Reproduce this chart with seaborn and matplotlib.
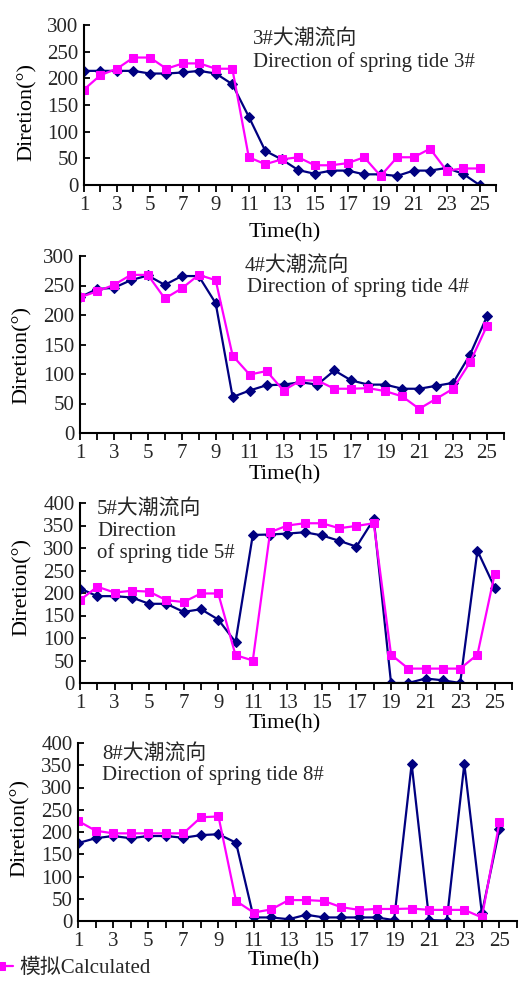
import matplotlib
matplotlib.use("Agg")
import matplotlib.pyplot as plt
import seaborn as sns
import pandas as pd

# ---------------- data ----------------
hours = list(range(1, 26))
measured_3 = [214, 214, 214, 214, 209, 209, 211, 214, 209, 189, 128, 64, 48, 28, 21, 27, 27, 20, 20, 17, 27, 27, 32, 21, 0]
calc_3 = [179, 206, 218, 239, 239, 218, 228, 228, 218, 218, 52, 39, 48, 52, 37, 37, 41, 52, 17, 52, 52, 68, 27, 31, 31]
measured_4 = [230, 244, 246, 259, 267, 251, 266, 266, 220, 61, 72, 81, 82, 86, 82, 106, 89, 82, 82, 75, 75, 80, 85, 133, 198]
calc_4 = [230, 240, 251, 268, 268, 228, 245, 268, 259, 131, 99, 105, 72, 89, 89, 75, 75, 76, 71, 62, 41, 58, 75, 120, 182]
measured_5 = [210, 193, 193, 190, 176, 176, 158, 164, 141, 91, 329, 330, 332, 335, 328, 316, 303, 364, 0, 0, 10, 6, 0, 294, 212]
calc_5 = [184, 214, 201, 205, 203, 184, 180, 199, 199, 62, 50, 335, 350, 355, 355, 344, 349, 355, 63, 32, 32, 32, 32, 63, 243]
measured_8 = [175, 186, 191, 186, 191, 191, 187, 193, 195, 176, 8, 8, 4, 14, 8, 8, 8, 8, 2, 353, 2, 1, 353, 17, 206]
calc_8 = [225, 203, 197, 197, 197, 197, 197, 233, 235, 45, 19, 26, 47, 47, 45, 31, 25, 27, 27, 28, 25, 25, 25, 8, 222]

titles_cn = ["3#大潮流向", "4#大潮流向", "5#大潮流向", "8#大潮流向"]
titles_en = [["Direction of spring tide 3#"], ["Direction of spring tide 4#"],
             ["Direction", "of spring tide 5#"], ["Direction of spring tide 8#"]]
xlabel = "Time(h)"
ylabel = "Diretion(°)"
calc_label = "模拟Calculated"
yticks_300 = [0, 50, 100, 150, 200, 250, 300]
yticks_400 = [0, 50, 100, 150, 200, 250, 300, 350, 400]

# ---------------- style ----------------
sns.set_theme(style="ticks")
FAM = ["Liberation Serif", "Noto Sans CJK SC", "DejaVu Sans"]
plt.rcParams["font.family"] = FAM

W, H = 520, 985
fig = plt.figure(figsize=(W / 100, H / 100), dpi=100)

NAVY = "#000080"
MAG = "#FF00FF"

# panel pixel boxes: left, right, top, bottom
boxes = [(84, 496, 25, 185), (80, 504, 256, 433), (80, 512, 503, 683), (78, 517, 743, 921)]
datasets = [(measured_3, calc_3, yticks_300), (measured_4, calc_4, yticks_300),
            (measured_5, calc_5, yticks_400), (measured_8, calc_8, yticks_400)]
xlabel_pos = [(285, 233), (285, 475), (285, 724), (284, 961)]
ylabel_pos = [(27, 112), (22, 355), (22, 587), (20, 828)]
text_pos = [((253, 40), [(253, 62)]), ((245, 267), [(247, 287)]),
            ((97, 510), [(97, 532), (97, 553)]), ((102, 755), [(102, 775)])]

def fx(px):
    return px / W

def fy(py):
    return 1 - py / H

calc_handle = None
for i, ((l, r, t, b), (meas, calc, yt)) in enumerate(zip(boxes, datasets)):
    ax = fig.add_axes([fx(l), fy(b), (r - l) / W, (b - t) / H])
    df = pd.DataFrame({"hour": hours, "measured": meas, "calc": calc})
    sns.lineplot(data=df, x="hour", y="measured", ax=ax, color=NAVY, linewidth=1.6,
                 marker="D", markersize=5, markeredgecolor=NAVY, markerfacecolor=NAVY)
    sns.lineplot(data=df, x="hour", y="calc", ax=ax, color=MAG, linewidth=1.6,
                 marker="s", markersize=5.5, markeredgecolor=MAG, markerfacecolor=MAG,
                 label=calc_label, legend=False)
    ax.set_xlim(1, 26)
    ax.set_ylim(yt[0], yt[-1])
    ax.set_yticks(yt)
    ax.set_yticklabels([str(v) for v in yt], fontsize=15)
    ax.set_xticks(list(range(1, 27)))
    ax.set_xticklabels([str(v) if (v % 2 == 1 and v <= 25) else "" for v in range(1, 27)], fontsize=15)
    ax.tick_params(axis="x", direction="out", length=5, width=1.3, color="black", pad=3)
    ax.tick_params(axis="y", direction="in", length=4, width=1.3, color="black", pad=4)
    for s in ["top", "right"]:
        ax.spines[s].set_visible(False)
    for s in ["left", "bottom"]:
        ax.spines[s].set_color("black")
        ax.spines[s].set_linewidth(1.5)
    ax.set_facecolor("white")
    ax.set_xlabel(xlabel, fontsize=16, color="black")
    ax.set_ylabel(ylabel, fontsize=16, color="black")
    ax.xaxis.set_label_coords(fx(xlabel_pos[i][0]), fy(xlabel_pos[i][1]), transform=fig.transFigure)
    ax.xaxis.label.set_va("center")
    ax.yaxis.set_label_coords(fx(ylabel_pos[i][0]), fy(ylabel_pos[i][1]), transform=fig.transFigure)
    ax.yaxis.label.set_va("center")
    (cx, cy), en = text_pos[i]
    fig.text(fx(cx), fy(cy), titles_cn[i], fontsize=15, ha="left", va="center", family=FAM)
    for (ex, ey), line in zip(en, titles_en[i]):
        fig.text(fx(ex), fy(ey), line, fontsize=15, ha="left", va="center", family=FAM)
    if calc_handle is None:
        calc_handle = ax.lines[-1]

fig.legend([calc_handle], [calc_label], loc="center left",
           bbox_to_anchor=(-12 / W, fy(968)), frameon=False, fontsize=15,
           handlelength=1.2, handletextpad=0.3, borderpad=0, borderaxespad=0)

fig.savefig("out.png", dpi=100, facecolor="white")
